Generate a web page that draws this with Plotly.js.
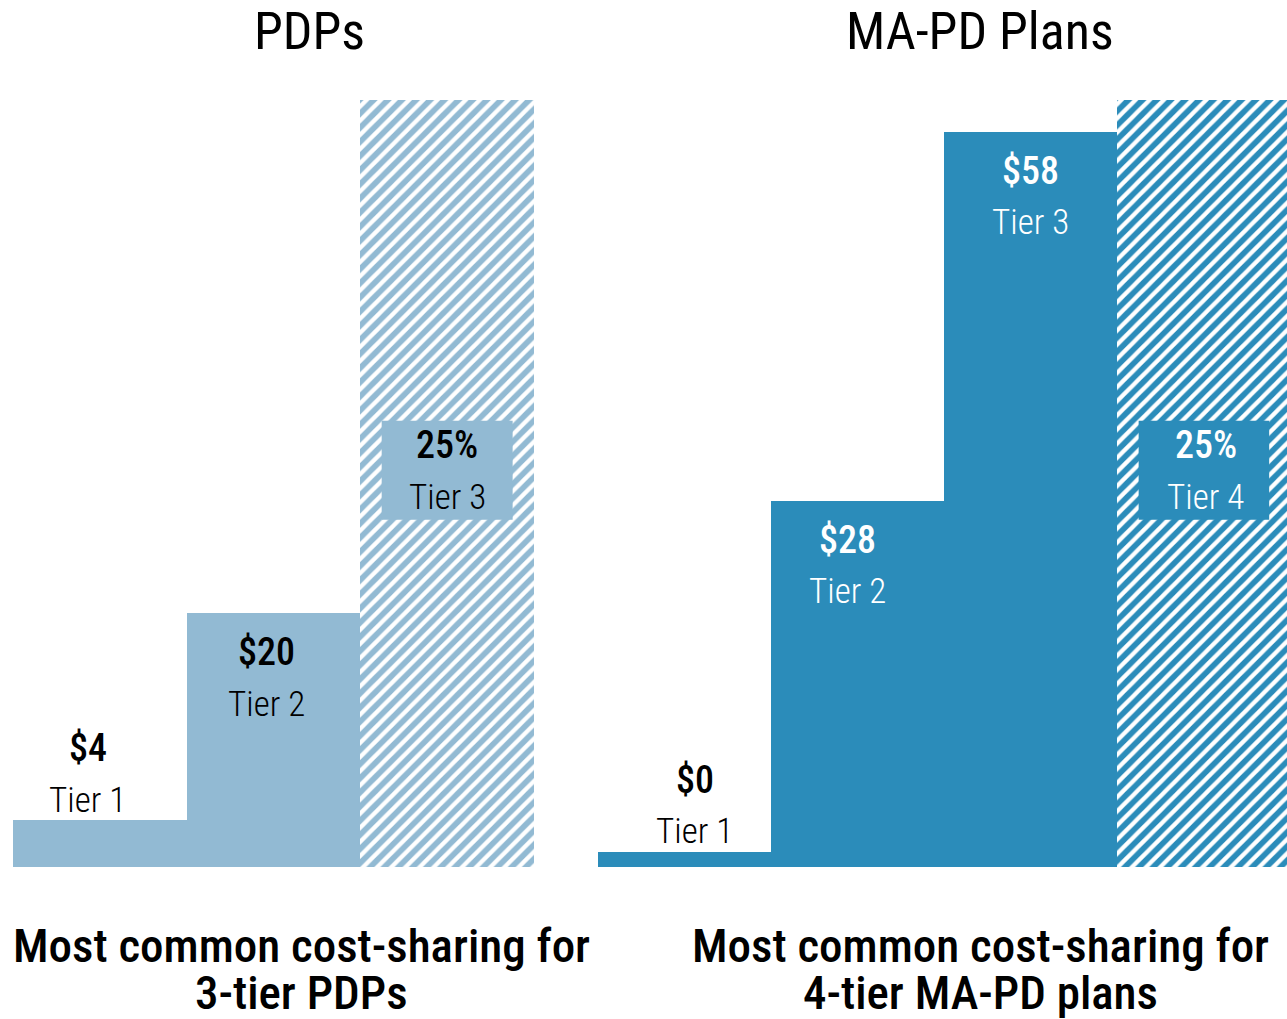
<!DOCTYPE html>
<html>
<head>
<meta charset="utf-8">
<script src="https://cdn.plot.ly/plotly-3.0.1.min.js"></script>
<style>html,body{margin:0;padding:0;background:#fff;}#chart{width:1287px;height:1019px;}</style>
</head>
<body>
<div id="chart"></div>
<script>
// ---- data ----
const pdpTiers = ["Tier 1", "Tier 2", "Tier 3"];
const pdpValueLabels = ["$4", "$20", "25%"];
const pdpBarHeights = [3.7, 20, 60.5];      // last bar = coinsurance tier, drawn full height, hatched
const pdpHatched = [false, false, true];

const mapdTiers = ["Tier 1", "Tier 2", "Tier 3", "Tier 4"];
const mapdValueLabels = ["$0", "$28", "$58", "25%"];
const mapdBarHeights = [1.2, 28.9, 58, 60.5];
const mapdHatched = [false, false, false, true];

const panelTitles = ["PDPs", "MA-PD Plans"];
const captionLine1 = ["Most common cost-sharing for", "Most common cost-sharing for"];
const captionLine2 = ["3-tier PDPs", "4-tier MA-PD plans"];

// ---- styling ----
const FONT = "'Roboto Condensed', Roboto, sans-serif";
const PDP_COLOR = "#92BAD3";
const MAPD_COLOR = "#2B8CBA";
const YMAX = 60.5;
const W = 1287, H = 1019;
const px = v => v / W;
const py = v => 1 - v / H;
const pdpLabelXShift = [-12, -7, 0];
const mapdLabelXShift = [10, -10, 0, 2];

function pick(arr, mask, want) { return arr.filter((_, i) => mask[i] === want); }

function traces(tiers, heights, hatched, color, xa, ya) {
  return [
    {
      type: "bar", x: pick(tiers, hatched, false), y: pick(heights, hatched, false),
      xaxis: xa, yaxis: ya,
      marker: {color: color, line: {width: 0}},
      hoverinfo: "skip", showlegend: false
    },
    {
      type: "bar", x: pick(tiers, hatched, true), y: pick(heights, hatched, true),
      xaxis: xa, yaxis: ya,
      marker: {color: color, line: {width: 0},
        pattern: {shape: "/", fgcolor: "#ffffff", bgcolor: color, size: 10, solidity: 0.42}},
      hoverinfo: "skip", showlegend: false
    }
  ];
}

const data = [].concat(
  traces(pdpTiers, pdpBarHeights, pdpHatched, PDP_COLOR, "x", "y"),
  traces(mapdTiers, mapdBarHeights, mapdHatched, MAPD_COLOR, "x2", "y2")
);

const annotations = [];
const shapes = [];

function addLabels(tiers, values, heights, hatched, color, textColor, xshifts, xref, yref) {
  tiers.forEach((t, i) => {
    let yv, sVal, sTier;
    if (hatched[i]) {
      yv = 31.3; sVal = 25; sTier = -27;
      shapes.push({
        type: "rect", xref: xref, yref: yref,
        x0: i - 0.377, x1: i + 0.377, y0: 27.4, y1: 35.2,
        fillcolor: color, line: {width: 0}, layer: "above"
      });
    } else if (heights[i] < 10) {
      yv = heights[i]; sVal = 72; sTier = 20;
    } else {
      yv = heights[i]; sVal = -39; sTier = -91;
    }
    const tc = (heights[i] < 10) ? "#000000" : textColor;
    annotations.push({
      xref: xref, yref: yref, x: t, y: yv, yshift: sVal, xshift: xshifts[i],
      text: values[i], showarrow: false,
      font: {family: FONT, size: 38, color: tc, weight: 500}, yanchor: "middle"
    });
    annotations.push({
      xref: xref, yref: yref, x: t, y: yv, yshift: sTier, xshift: xshifts[i],
      text: t, showarrow: false,
      font: {family: FONT, size: 35, color: tc, weight: 300}, yanchor: "middle"
    });
  });
}

addLabels(pdpTiers, pdpValueLabels, pdpBarHeights, pdpHatched, PDP_COLOR, "#000000", pdpLabelXShift, "x", "y");
addLabels(mapdTiers, mapdValueLabels, mapdBarHeights, mapdHatched, MAPD_COLOR, "#ffffff", mapdLabelXShift, "x2", "y2");

// panel titles and captions
[309, 980].forEach((cx, k) => {
  annotations.push({
    xref: "paper", yref: "paper", x: px(cx), y: py(32),
    text: panelTitles[k], showarrow: false,
    font: {family: FONT, size: 52, color: "#000", weight: 400}, xanchor: "center", yanchor: "middle"
  });
});
[301, 980].forEach((cx, k) => {
  annotations.push({
    xref: "paper", yref: "paper", x: px(cx), y: py(945),
    text: captionLine1[k], showarrow: false, borderpad: 0,
    font: {family: FONT, size: 47, color: "#000", weight: 500}, xanchor: "center", yanchor: "middle"
  });
  annotations.push({
    xref: "paper", yref: "paper", x: px(cx), y: py(992),
    text: captionLine2[k], showarrow: false, borderpad: 0,
    font: {family: FONT, size: 47, color: "#000", weight: 500}, xanchor: "center", yanchor: "middle"
  });
});

const axisCommon = {showgrid: false, zeroline: false, showticklabels: false, ticks: "", showline: false, fixedrange: true};

const layout = {
  width: W, height: H,
  margin: {l: 0, r: 0, t: 0, b: 0},
  paper_bgcolor: "#ffffff",
  plot_bgcolor: "rgba(0,0,0,0)",
  bargap: 0,
  barmode: "overlay",
  showlegend: false,
  xaxis: Object.assign({}, axisCommon, {domain: [px(13), px(534)], range: [-0.5, 2.5], type: "category", categoryarray: pdpTiers, categoryorder: "array"}),
  yaxis: Object.assign({}, axisCommon, {domain: [py(867), py(100)], range: [0, YMAX]}),
  xaxis2: Object.assign({}, axisCommon, {domain: [px(598), 1], range: [-0.5, 3.48], type: "category", categoryarray: mapdTiers, categoryorder: "array", anchor: "y2"}),
  yaxis2: Object.assign({}, axisCommon, {domain: [py(867), py(100)], range: [0, YMAX], anchor: "x2"}),
  annotations: annotations,
  shapes: shapes
};

Plotly.newPlot("chart", data, layout, {displayModeBar: false, staticPlot: true});
</script>
</body>
</html>
